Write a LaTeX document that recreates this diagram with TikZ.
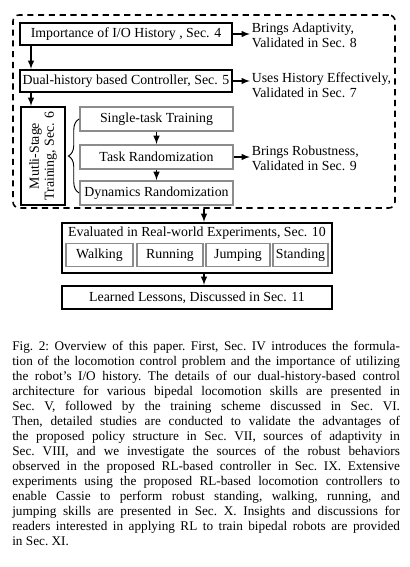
\documentclass[tikz,border=0pt]{standalone}
\usepackage{fontspec}
\setmainfont{Liberation Serif}
\usepackage{tikz}
\usetikzlibrary{arrows,decorations.pathreplacing}
\usepackage{xcolor}
\newcommand{\px}{0.65pt}
\definecolor{boxgray}{gray}{0.55}

\begin{document}
\begin{tikzpicture}[
  x=\px, y=-\px,
  mainbox/.style={draw, line width=1.3pt, inner sep=0pt, minimum height=22*\px},
  subbox/.style={draw=boxgray, line width=1.1pt, inner sep=0pt, minimum height=24*\px},
  note/.style={anchor=west, align=left, inner sep=1pt},
  link/.style={-latex, line width=0.9pt}
  ]
  \tikzstyle{every node}=[font=\fontsize{9}{9.75}\selectfont]
  \useasboundingbox (0,0) rectangle (410,567);
  \node[draw, line width=1pt, dash pattern=on 4pt off 3pt, rounded corners=4pt,
    minimum width=382*\px, minimum height=193*\px] (stages) at (204,111.5) {};
  \node[mainbox, minimum width=212*\px] (imp) at (126,34) {Importance of I/O History , Sec. 4};
  \node[mainbox, minimum width=212*\px] (dual) at (126,81) {Dual-history based Controller, Sec. 5};
  \node[mainbox, rotate=90, align=center, minimum width=98*\px, minimum height=44*\px] (multi) at (43,156) {Mutli-Stage\\Training, Sec. 6};
  \node[subbox, minimum width=153*\px] (single) at (156.5,119) {Single-task Training};
  \node[subbox, minimum width=153*\px] (taskr) at (156.5,157) {Task Randomization};
  \node[subbox, minimum width=153*\px] (dynr) at (156.5,193) {Dynamics Randomization};
  \node[note] (adapt) at (250,35.5) {Brings Adaptivity,\\Validated in Sec. 8};
  \node[note] (usehist) at (250,85.5) {Uses History Effectively,\\Validated in Sec. 7};
  \node[note] (robust) at (250,158) {Brings Robustness,\\Validated in Sec. 9};

  \node[mainbox, minimum width=270*\px, minimum height=50*\px] (eval) at (197,248) {};
  \node[inner sep=0pt] (evaltitle) at (197,233) {Evaluated in Real-world Experiments, Sec. 10};
  \node[subbox, minimum width=67*\px, minimum height=23*\px] (walk) at (99.5,255) {Walking};
  \node[subbox, minimum width=66*\px, minimum height=23*\px] (run) at (170,255) {Running};
  \node[subbox, minimum width=64*\px, minimum height=23*\px] (jump) at (238,255) {Jumping};
  \node[subbox, minimum width=55*\px, minimum height=23*\px] (stand) at (300.5,255) {Standing};
  \node[mainbox, minimum width=270*\px, minimum height=23*\px] (lessons) at (197,297.5) {Learned Lessons, Discussed in Sec. 11};

  \draw[link] ([xshift=12*\px]imp.south west) -- ([xshift=12*\px]imp.south west |- dual.north);
  \draw[link] ([xshift=12*\px]dual.south west) -- ([xshift=12*\px]dual.south west |- multi.east);
  \draw[link] (imp.east) -- (imp.east -| adapt.west);
  \draw[link] (dual.east) -- (dual.east -| usehist.west);
  \draw[link] (taskr.east) -- (taskr.east -| robust.west);
  \draw[link] (single) -- (taskr);
  \draw[link] (taskr) -- (dynr);
  \draw[decorate, decoration={brace, amplitude=7pt}, line width=0.6pt] (dynr.west) -- (single.west);
  \draw[link] (stages.south) -- (stages.south |- eval.north);
  \draw[link] (stages.south |- eval.south) -- (stages.south |- lessons.north);

  \node[anchor=north west, inner sep=0pt, text width=252pt, align=justify,
    font=\fontsize{8.6}{9.75}\selectfont] (caption) at (12,341) {\frenchspacing
    Fig. 2: Overview of this paper. First, Sec. IV introduces the formula-\linebreak
    tion of the locomotion control problem and the importance of utilizing\linebreak
    the robot’s I/O history. The details of our dual-history-based control\linebreak
    architecture for various bipedal locomotion skills are presented in\linebreak
    Sec. V, followed by the training scheme discussed in Sec. VI.\linebreak
    Then, detailed studies are conducted to validate the advantages of\linebreak
    the proposed policy structure in Sec. VII, sources of adaptivity in\linebreak
    Sec. VIII, and we investigate the sources of the robust behaviors\linebreak
    observed in the proposed RL-based controller in Sec. IX. Extensive\linebreak
    experiments using the proposed RL-based locomotion controllers to\linebreak
    enable Cassie to perform robust standing, walking, running, and\linebreak
    jumping skills are presented in Sec. X. Insights and discussions for\linebreak
    readers interested in applying RL to train bipedal robots are provided\linebreak
    in Sec. XI.};
\end{tikzpicture}
\end{document}
